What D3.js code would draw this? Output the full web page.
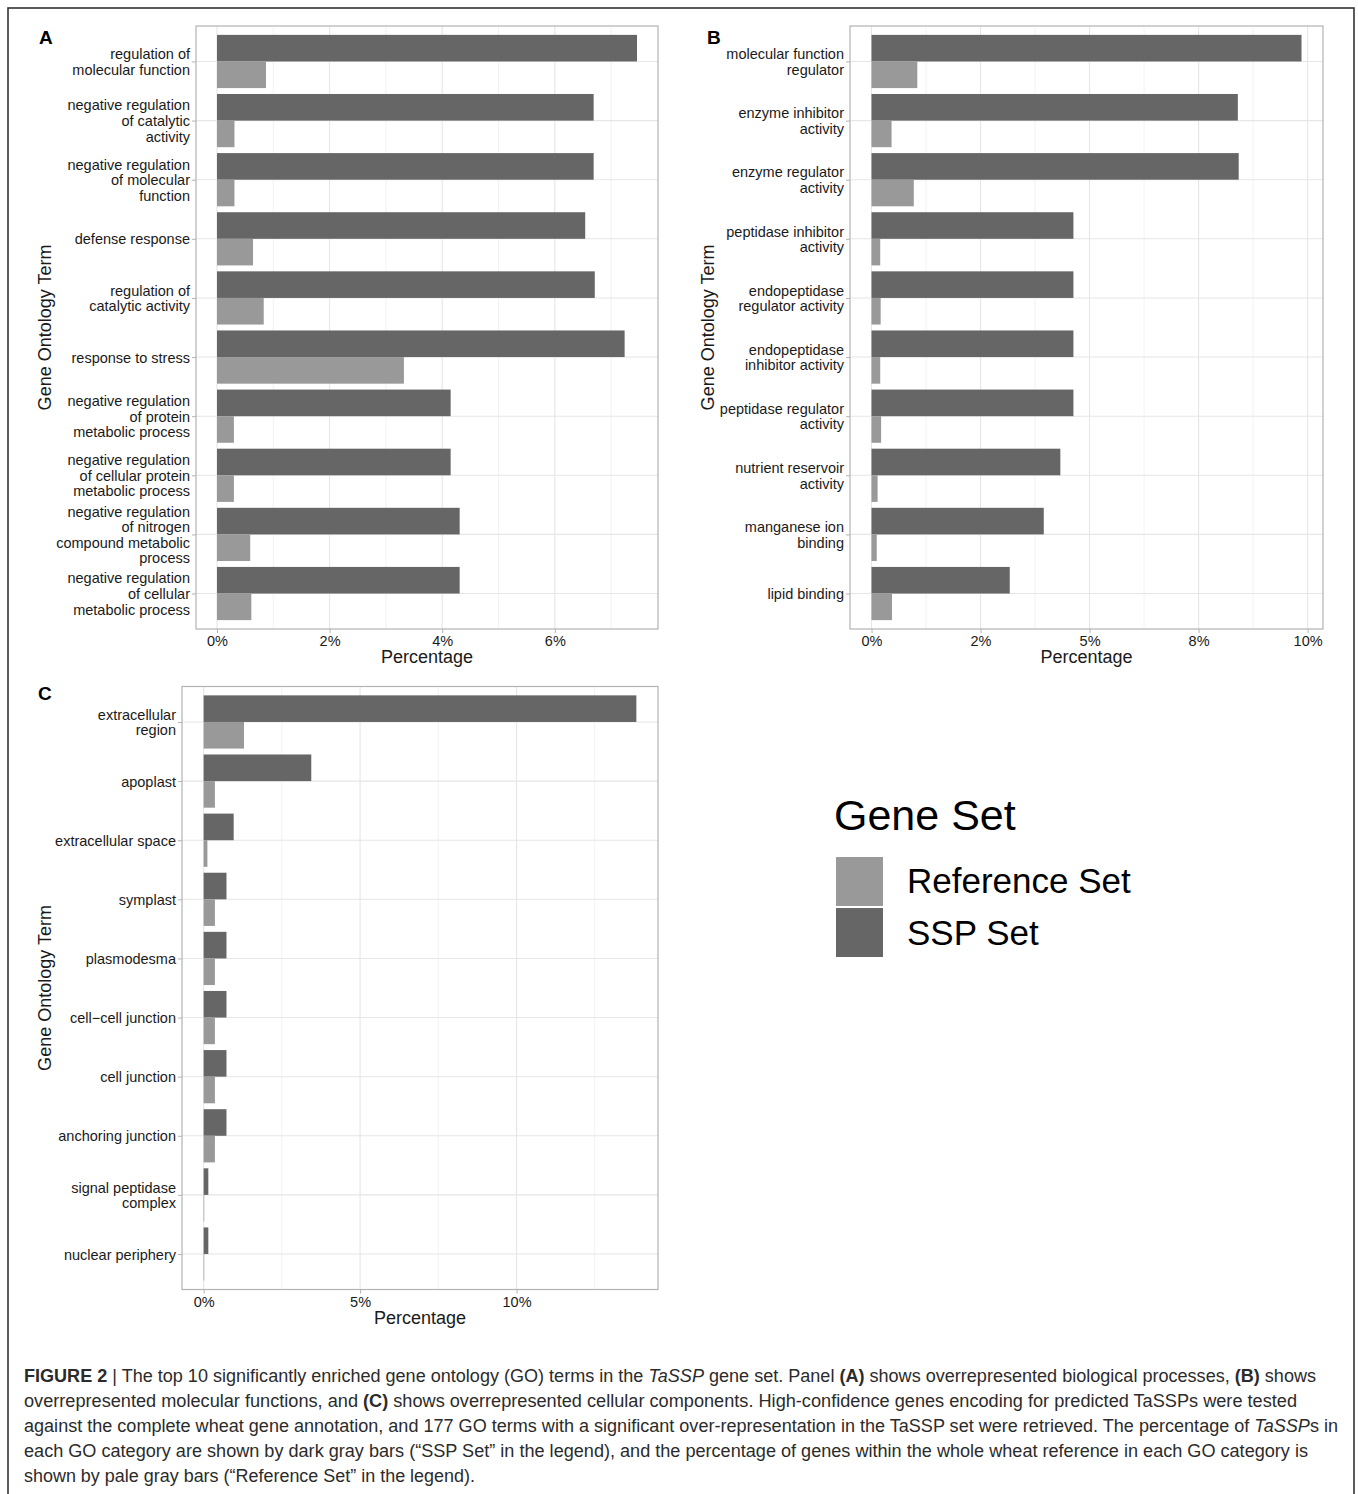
<!DOCTYPE html>
<html>
<head>
<meta charset="utf-8">
<script src="https://cdn.jsdelivr.net/npm/d3@7"></script>
<style>
  html, body { margin: 0; padding: 0; background: #fff; }
  svg { display: block; font-family: "Liberation Sans", Arial, Helvetica, sans-serif; }
</style>
</head>
<body>
<svg id="fig" width="1358" height="1494"></svg>
<script>
// ---- Panel A: biological processes ----
const termsA = [
  "regulation of\nmolecular function",
  "negative regulation\nof catalytic\nactivity",
  "negative regulation\nof molecular\nfunction",
  "defense response",
  "regulation of\ncatalytic activity",
  "response to stress",
  "negative regulation\nof protein\nmetabolic process",
  "negative regulation\nof cellular protein\nmetabolic process",
  "negative regulation\nof nitrogen\ncompound metabolic\nprocess",
  "negative regulation\nof cellular\nmetabolic process"
];
const sspA = [7.46, 6.69, 6.69, 6.54, 6.71, 7.24, 4.15, 4.15, 4.31, 4.31];
const refA = [0.87, 0.31, 0.31, 0.64, 0.83, 3.32, 0.30, 0.30, 0.59, 0.61];
const ticksA = [0, 2, 4, 6];
const tickLabelsA = ["0%", "2%", "4%", "6%"];

// ---- Panel B: molecular functions ----
const termsB = [
  "molecular function\nregulator",
  "enzyme inhibitor\nactivity",
  "enzyme regulator\nactivity",
  "peptidase inhibitor\nactivity",
  "endopeptidase\nregulator activity",
  "endopeptidase\ninhibitor activity",
  "peptidase regulator\nactivity",
  "nutrient reservoir\nactivity",
  "manganese ion\nbinding",
  "lipid binding"
];
const sspB = [9.86, 8.40, 8.42, 4.63, 4.63, 4.63, 4.63, 4.33, 3.95, 3.17];
const refB = [1.05, 0.46, 0.97, 0.20, 0.21, 0.20, 0.22, 0.14, 0.12, 0.47];
const ticksB = [0, 2.5, 5, 7.5, 10];
const tickLabelsB = ["0%", "2%", "5%", "8%", "10%"];

// ---- Panel C: cellular components ----
const termsC = [
  "extracellular\nregion",
  "apoplast",
  "extracellular space",
  "symplast",
  "plasmodesma",
  "cell\u2212cell junction",
  "cell junction",
  "anchoring junction",
  "signal peptidase\ncomplex",
  "nuclear periphery"
];
const sspC = [13.83, 3.44, 0.96, 0.73, 0.73, 0.73, 0.73, 0.73, 0.15, 0.15];
const refC = [1.29, 0.36, 0.12, 0.36, 0.36, 0.36, 0.36, 0.36, 0.005, 0.005];
const ticksC = [0, 5, 10];
const tickLabelsC = ["0%", "5%", "10%"];

// ---- Legend ----
const legendTitle = "Gene Set";
const seriesNames = ["Reference Set", "SSP Set"];
const seriesColors = ["#999999", "#666666"];

// ---- Caption (segments: text, weight, style) ----
const captionLines = [
  [["FIGURE 2", "bold"], [" | The top 10 significantly enriched gene ontology (GO) terms in the "], ["TaSSP", null, "italic"], [" gene set. Panel "], ["(A)", "bold"], [" shows overrepresented biological processes, "], ["(B)", "bold"], [" shows"]],
  [["overrepresented molecular functions, and "], ["(C)", "bold"], [" shows overrepresented cellular components. High-confidence genes encoding for predicted TaSSPs were tested"]],
  [["against the complete wheat gene annotation, and 177 GO terms with a significant over-representation in the TaSSP set were retrieved. The percentage of "], ["TaSSP", null, "italic"], ["s in"]],
  [["each GO category are shown by dark gray bars (\u201CSSP Set\u201D in the legend), and the percentage of genes within the whole wheat reference in each GO category is"]],
  [["shown by pale gray bars (\u201CReference Set\u201D in the legend)."]]
];

// ================= drawing =================
const svg = d3.select("#fig");
const TEXT = "#1a1a1a";
const BORDER = "#b3b3b3";

// outer figure frame
svg.append("rect")
  .attr("x", 8).attr("y", 8).attr("width", 1346).attr("height", 1600)
  .attr("fill", "none").attr("stroke", "#333").attr("stroke-width", 1.6);

function drawPanel(opt) {
  const { terms, ssp, ref, ticks, tickLabels, left, right, top, bottom, letter, letterPos, titleX } = opt;
  const g = svg.append("g");
  const maxV = d3.max(ssp.concat(ref));
  const x = d3.scaleLinear().domain([-0.05 * maxV, 1.05 * maxV]).range([left, right]);
  const y = d3.scalePoint().domain(terms).range([top, bottom]).padding(0.6);
  const step = y.step();
  const barH = 0.45 * step;

  // minor grid positions halfway between major breaks
  const stepT = ticks[1] - ticks[0];
  const minors = d3.range(ticks[0] - stepT / 2, x.domain()[1], stepT)
    .filter(v => v > x.domain()[0] && v < x.domain()[1]);

  g.append("g").selectAll("line").data(minors).join("line")
    .attr("x1", d => x(d)).attr("x2", d => x(d))
    .attr("y1", top).attr("y2", bottom)
    .attr("stroke", "#efefef").attr("stroke-width", 0.8);
  g.append("g").selectAll("line").data(ticks).join("line")
    .attr("x1", d => x(d)).attr("x2", d => x(d))
    .attr("y1", top).attr("y2", bottom)
    .attr("stroke", "#e6e6e6").attr("stroke-width", 1.1);
  g.append("g").selectAll("line").data(terms).join("line")
    .attr("x1", left).attr("x2", right)
    .attr("y1", d => y(d)).attr("y2", d => y(d))
    .attr("stroke", "#e6e6e6").attr("stroke-width", 1.1);

  // bars: SSP above the term line, reference below
  const rows = terms.map((t, i) => ({ t, ssp: ssp[i], ref: ref[i] }));
  g.append("g").selectAll("rect.ssp").data(rows).join("rect")
    .attr("x", x(0)).attr("y", d => y(d.t) - barH)
    .attr("width", d => x(d.ssp) - x(0)).attr("height", barH)
    .attr("fill", seriesColors[1]);
  g.append("g").selectAll("rect.ref").data(rows).join("rect")
    .attr("x", x(0)).attr("y", d => y(d.t))
    .attr("width", d => Math.max(0.6, x(d.ref) - x(0))).attr("height", barH)
    .attr("fill", seriesColors[0]);

  // panel border
  g.append("rect").attr("x", left).attr("y", top)
    .attr("width", right - left).attr("height", bottom - top)
    .attr("fill", "none").attr("stroke", BORDER).attr("stroke-width", 1.2);

  // x axis
  const xAxis = d3.axisBottom(x).tickValues(ticks)
    .tickFormat((d, i) => tickLabels[i]).tickSize(4).tickPadding(3);
  const ax = g.append("g").attr("transform", `translate(0,${bottom})`).call(xAxis);
  ax.select(".domain").remove();
  ax.selectAll(".tick line").attr("stroke", BORDER);
  ax.selectAll(".tick text").attr("fill", TEXT)
    .style("font-size", "14.5px").style("font-family", "Liberation Sans, Arial, sans-serif");

  // y axis with wrapped labels
  const yAxis = d3.axisLeft(y).tickSize(4).tickPadding(2).tickFormat("");
  const ay = g.append("g").attr("transform", `translate(${left},0)`).call(yAxis);
  ay.select(".domain").remove();
  ay.selectAll(".tick line").attr("stroke", BORDER);
  const lh = 15.6;
  ay.selectAll(".tick").each(function (d) {
    const lines = d.split("\n");
    const t = d3.select(this).select("text")
      .attr("x", -6).attr("dy", null).attr("y", 0)
      .attr("text-anchor", "end").attr("fill", TEXT)
      .style("font-size", "14.5px").style("font-family", "Liberation Sans, Arial, sans-serif");
    t.selectAll("tspan").data(lines).join("tspan")
      .attr("x", -6)
      .attr("y", (l, i) => (i - (lines.length - 1) / 2) * lh + 5)
      .text(l => l);
  });

  // axis titles
  g.append("text").attr("x", (left + right) / 2).attr("y", bottom + 34)
    .attr("text-anchor", "middle").attr("fill", TEXT)
    .style("font-size", "18px").text("Percentage");
  g.append("text")
    .attr("transform", `translate(${titleX},${(top + bottom) / 2}) rotate(-90)`)
    .attr("text-anchor", "middle").attr("fill", TEXT)
    .style("font-size", "18px").text("Gene Ontology Term");

  // panel letter
  g.append("text").attr("x", letterPos[0]).attr("y", letterPos[1])
    .attr("fill", "#000").style("font-size", "19px").style("font-weight", "bold")
    .text(letter);
}

drawPanel({ terms: termsA, ssp: sspA, ref: refA, ticks: ticksA, tickLabels: tickLabelsA,
  left: 196, right: 658, top: 26, bottom: 629, letter: "A", letterPos: [39, 44], titleX: 51 });
drawPanel({ terms: termsB, ssp: sspB, ref: refB, ticks: ticksB, tickLabels: tickLabelsB,
  left: 850, right: 1323, top: 26, bottom: 629, letter: "B", letterPos: [707, 44], titleX: 714 });
drawPanel({ terms: termsC, ssp: sspC, ref: refC, ticks: ticksC, tickLabels: tickLabelsC,
  left: 182, right: 658, top: 686.5, bottom: 1289.5, letter: "C", letterPos: [38, 700], titleX: 51 });

// legend
const lg = svg.append("g");
lg.append("text").attr("x", 834).attr("y", 830).attr("fill", "#000")
  .style("font-size", "43px").text(legendTitle);
const keyY = d3.scaleBand().domain(seriesNames).range([857, 957]).paddingInner(0.04);
lg.selectAll("rect").data(seriesNames).join("rect")
  .attr("x", 836).attr("y", d => keyY(d))
  .attr("width", 47).attr("height", keyY.bandwidth())
  .attr("fill", (d, i) => seriesColors[i]);
lg.selectAll("text.lab").data(seriesNames).join("text").attr("class", "lab")
  .attr("x", 907).attr("y", d => keyY(d) + keyY.bandwidth() / 2 + 12)
  .attr("fill", "#000").style("font-size", "35px").text(d => d);

// caption
const capX = 24, capY0 = 1382, capLH = 25;
const capWidths = [1292, 1273, 1314, 1284, 451];
const cap = svg.append("g").attr("fill", "#2b2b2b").style("font-size", "17.5px");
captionLines.forEach((segs, i) => {
  const t = cap.append("text").attr("x", capX).attr("y", capY0 + i * capLH)
    .attr("textLength", capWidths[i]).attr("lengthAdjust", "spacingAndGlyphs");
  segs.forEach(s => {
    const sp = t.append("tspan").text(s[0]);
    if (s[1]) sp.style("font-weight", s[1]);
    if (s[2]) sp.style("font-style", s[2]);
  });
});
</script>
</body>
</html>
